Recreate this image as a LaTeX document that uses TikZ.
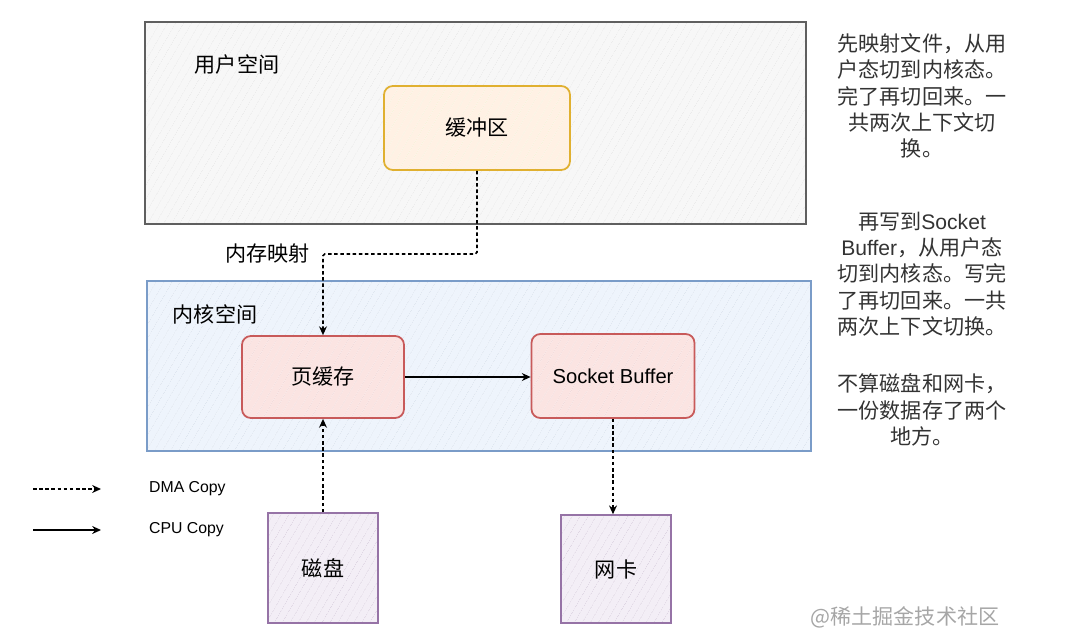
\documentclass[tikz,border=0pt]{standalone}
\usepackage{fontspec}
\setmainfont{Noto Sans CJK SC}
\newfontfamily\latin{Liberation Sans}
\usetikzlibrary{arrows.meta}
\usetikzlibrary{patterns.meta}
\definecolor{userLine}{HTML}{5F5F5F}
\definecolor{userFill}{HTML}{F7F7F7}
\definecolor{bufLine}{HTML}{E0B030}
\definecolor{bufFill}{HTML}{FFF1E4}
\definecolor{kernLine}{HTML}{7A9CC8}
\definecolor{kernFill}{HTML}{EEF4FC}
\definecolor{memLine}{HTML}{C85A5A}
\definecolor{memFill}{HTML}{FBE4E2}
\definecolor{devLine}{HTML}{9673A6}
\definecolor{devFill}{HTML}{F3EEF6}

\begin{document}
\begin{tikzpicture}[x=0.02cm, y=-0.02cm, >={Stealth[length=5pt,width=4.5pt]}, every node/.style={font=\fontsize{12}{15}\selectfont}]
	\tikzset{hatch/.style={preaction={fill=#1}, pattern={Lines[angle=60,distance=4pt,line width=0.35pt]}},
		area/.style={draw=#1, line width=0.9pt},
		cache/.style={draw=#1, line width=1pt, rounded corners=5pt},
		dma/.style={->, dash pattern=on 2pt off 1.5pt, line width=0.9pt},
		cpu/.style={->, line width=0.9pt},
		note/.style={align=center, text=black!80}}
	\useasboundingbox (0,0) rectangle (1081,629);
	\node[area=userLine, hatch=userFill, pattern color=black!8, minimum width=13.22cm, minimum height=4.04cm] (user) at (475.5,123) {};
	\node (userlbl) at (237,64) {用户空间};
	\node[cache=bufLine, hatch=bufFill, pattern color=bufLine!18, minimum width=3.72cm, minimum height=1.68cm] (buf) at (477,128) {缓冲区};
	\node[area=kernLine, hatch=kernFill, pattern color=kernLine!25, minimum width=13.28cm, minimum height=3.4cm] (kernel) at (479,366) {};
	\node (kernlbl) at (215,314) {内核空间};
	\node[cache=memLine, hatch=memFill, pattern color=memLine!22, minimum width=3.24cm, minimum height=1.64cm] (page) at (323,377) {页缓存};
	\node[cache=memLine, hatch=memFill, pattern color=memLine!22, minimum width=3.26cm, minimum height=1.68cm, font=\latin\fontsize{11.5}{14}\selectfont] (sock) at (613,376) {Socket Buffer};
	\node[area=devLine, hatch=devFill, pattern color=devLine!30, minimum width=2.2cm, minimum height=2.2cm] (disk) at (323,568) {磁盘};
	\node[area=devLine, hatch=devFill, pattern color=devLine!30, minimum width=2.2cm, minimum height=2.16cm] (nic) at (616,569) {网卡};
	\node[anchor=east] (mmap) at (316,254) {内存映射};
	\draw[dma, rounded corners=1pt] (buf.south) |- (page.north |- mmap.east) -- (page.north);
	\draw[cpu] (page.east) -- (sock.west |- page.east);
	\draw[dma] (disk.north) -- (page.south);
	\draw[dma] (sock.south) -- (sock.south |- nic.north);
	\coordinate (dmaA) at (33,489);
	\coordinate (dmaB) at (101,489);
	\coordinate (cpuA) at (33,530);
	\coordinate (cpuB) at (101,530);
	\node[anchor=west, font=\latin\fontsize{9}{11}\selectfont] (dmalbl) at (143,489) {DMA Copy};
	\node[anchor=west, font=\latin\fontsize{9}{11}\selectfont] (cpulbl) at (143,530) {CPU Copy};
	\draw[dma] (dmaA) -- (dmaB);
	\draw[cpu] (cpuA) -- (cpuB);
	\node[note] (note1) at (922,96) {先映射文件，从用\\户态切到内核态。\\完了再切回来。一\\共两次上下文切\\换。};
	\node[note] (note2) at (922,274) {再写到{\latin Socket}\\{\latin Buffer}，从用户态\\切到内核态。写完\\了再切回来。一共\\两次上下文切换。};
	\node[note] (note3) at (922,410) {不算磁盘和网卡，\\一份数据存了两个\\地方。};
	\node[text=black!35] (mark) at (905,617) {@稀土掘金技术社区};
\end{tikzpicture}
\end{document}
